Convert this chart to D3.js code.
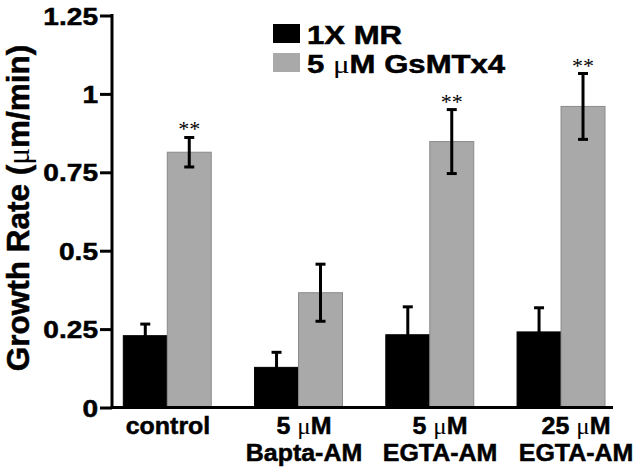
<!DOCTYPE html>
<html><head><meta charset="utf-8">
<script src="https://cdn.jsdelivr.net/npm/d3@7"></script>
<style>body{margin:0;background:#fff}svg{display:block}</style>
</head><body>
<svg id="c" width="640" height="472"></svg>
<script>
const categories = ["control", "Bapta", "EGTA5", "EGTA25"];
const labelLine1 = ["control", "5 μM", "5 μM", "25 μM"];
const labelLine2 = ["", "Bapta-AM", "EGTA-AM", "EGTA-AM"];
const seriesNames = ["1X MR", "5 μM GsMTx4"];
const mrValues = [0.229, 0.128, 0.232, 0.241];
const mrErrors = [0.037, 0.048, 0.089, 0.077];
const gsValues = [0.814, 0.366, 0.848, 0.960];
const gsErrors = [0.047, 0.091, 0.102, 0.105];
const significant = [true, false, true, true];
const yTicks = [0, 0.25, 0.5, 0.75, 1, 1.25];

const svg = d3.select("#c");
const axisX0 = 112, axisX1 = 613, y0 = 407.5, yTop = 15.5;
const y = d3.scaleLinear().domain([0, 1.25]).range([y0, yTop]);
const x = d3.scaleBand().domain(categories).range([123.3, 605]).paddingInner(0.33).paddingOuter(0);
const xs = d3.scaleBand().domain([0, 1]).range([0, x.bandwidth()]);
const xLabel = d3.scalePoint().domain(categories).range([168, 576]);
const colors = ["#000000", "#a9a9a9"];
const strokes = ["#000000", "#8a8a8a"];
const sans = "'Liberation Sans', Arial, Helvetica, sans-serif";
const serif = "'Liberation Serif', 'Times New Roman', serif";

function addMu(t, str) {
  const parts = str.split("μ");
  if (parts.length > 1) {
    t.append("tspan").text(parts[0]);
    t.append("tspan").attr("font-family", serif).attr("font-weight", "normal").attr("stroke-width", 0).text("μ");
    t.append("tspan").text(parts[1]);
  } else t.append("tspan").text(str);
  return t;
}
function heavy(t) { return t.attr("stroke", "#000").attr("stroke-width", 0.5); }

const series = [
  {vals: mrValues, errs: mrErrors},
  {vals: gsValues, errs: gsErrors}
];

// bars
series.forEach((s, si) => {
  svg.append("g").selectAll("rect").data(categories).join("rect")
    .attr("x", d => x(d) + xs(si))
    .attr("y", (d, i) => y(s.vals[i]))
    .attr("width", xs.bandwidth())
    .attr("height", (d, i) => y(0) - y(s.vals[i]))
    .attr("fill", colors[si])
    .attr("stroke", strokes[si]).attr("stroke-width", 1);
});

// error bars
series.forEach((s, si) => {
  const g = svg.append("g").attr("stroke", "#000").attr("stroke-width", 3);
  categories.forEach((c, i) => {
    const cx = x(c) + xs(si) + xs.bandwidth() / 2;
    const top = y(s.vals[i] + s.errs[i]);
    const bot = y(s.vals[i] - s.errs[i]);
    g.append("line").attr("x1", cx).attr("x2", cx).attr("y1", top).attr("y2", bot);
    g.append("line").attr("x1", cx - 5).attr("x2", cx + 5).attr("y1", top).attr("y2", top);
    g.append("line").attr("x1", cx - 5).attr("x2", cx + 5).attr("y1", bot).attr("y2", bot);
  });
});

// significance
categories.forEach((c, i) => {
  if (!significant[i]) return;
  const cx = x(c) + xs(1) + xs.bandwidth() / 2;
  svg.append("text").attr("x", cx).attr("y", y(gsValues[i] + gsErrors[i]) - 1)
    .attr("text-anchor", "middle").attr("font-family", serif).attr("font-size", 22)
    .attr("fill", "#000").text("**");
});

// axes
const yAxis = d3.axisLeft(y).tickValues(yTicks).tickSize(12).tickFormat(d3.format("~g"));
const ya = svg.append("g").attr("transform", `translate(${axisX0},0)`).call(yAxis);
ya.select(".domain").remove();
ya.selectAll(".tick line").attr("stroke", "#000").attr("stroke-width", 3);
heavy(ya.selectAll(".tick text")).attr("font-family", sans).attr("font-weight", "bold")
  .attr("font-size", 24).attr("fill", "#000").attr("x", 0).attr("dy", "0.36em")
  .attr("transform", "translate(-14,0) scale(1.17,1)");
svg.append("line").attr("x1", axisX0).attr("x2", axisX0).attr("y1", yTop - 1.5).attr("y2", y0 + 1.5)
  .attr("stroke", "#000").attr("stroke-width", 3);
svg.append("line").attr("x1", axisX0 - 1.5).attr("x2", axisX1).attr("y1", y0).attr("y2", y0)
  .attr("stroke", "#000").attr("stroke-width", 3);

// x labels
categories.forEach((c, i) => {
  const cx = xLabel(c);
  const g = svg.append("g").attr("transform", `translate(${cx},0) scale(1.04,1)`);
  const t1 = heavy(g.append("text").attr("x", 0).attr("y", 434).attr("text-anchor", "middle")
    .attr("font-family", sans).attr("font-weight", "bold").attr("font-size", 24).attr("fill", "#000"));
  addMu(t1, labelLine1[i]);
  if (labelLine2[i]) {
    heavy(g.append("text").attr("x", 0).attr("y", 461).attr("text-anchor", "middle")
      .attr("font-family", sans).attr("font-weight", "bold").attr("font-size", 24)
      .attr("fill", "#000").text(labelLine2[i]));
  }
});

// y title
const yt = heavy(svg.append("text").attr("transform", "translate(29,208) rotate(-90)")
  .attr("text-anchor", "middle").attr("font-family", sans).attr("font-weight", "bold")
  .attr("font-size", 31.5).attr("fill", "#000"));
addMu(yt, "Growth Rate (μm/min)");

// legend
seriesNames.forEach((n, i) => {
  const ly = 24 + i * 29;
  svg.append("rect").attr("x", 273).attr("y", ly).attr("width", 27).attr("height", 19)
    .attr("fill", colors[i]);
  const t = heavy(svg.append("text").attr("x", 0).attr("y", 0)
    .attr("transform", `translate(307,${ly + 19.5}) scale(1.22,1)`)
    .attr("font-family", sans).attr("font-weight", "bold").attr("font-size", 25.5).attr("fill", "#000"));
  addMu(t, n);
});
</script>
</body></html>
